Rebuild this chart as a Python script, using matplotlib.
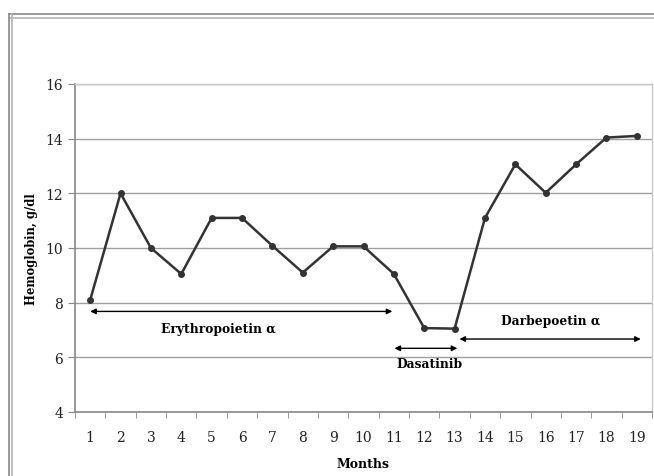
import matplotlib.pyplot as plt
from matplotlib.lines import Line2D

# hemoglobin by month
months = list(range(1, 20))
hemoglobin = [8.1, 12.0, 10.0, 9.05, 11.1, 11.1, 10.08, 9.1, 10.06, 10.06,
              9.05, 7.07, 7.05, 11.1, 13.06, 12.02, 13.06, 14.04, 14.1]
yticks = [4, 6, 8, 10, 12, 14, 16]

# treatment periods: (label, start, end, arrow y, text x, text y)
treatments = [
    ("Erythropoietin \u03b1", 1.0, 10.95, 7.68, 5.23, 7.04),
    ("Dasatinib", 11.02, 13.09, 6.33, 12.17, 5.79),
    ("Darbepoetin \u03b1", 13.16, 19.13, 6.67, 16.15, 7.34),
]

W, H = 654, 477
fig = plt.figure(figsize=(W / 100, H / 100), dpi=100)
plt.rcParams['font.family'] = ['DejaVu Serif']

# outer double frame (cropped at right/bottom)
for y0, c in [(15, '#8a8a8a'), (19, '#b5b5b5')]:
    fig.add_artist(Line2D([9 / W, 1], [1 - y0 / H] * 2, color=c, lw=1.2,
                          transform=fig.transFigure))
for x0, c in [(9, '#8a8a8a'), (12, '#b5b5b5')]:
    fig.add_artist(Line2D([x0 / W] * 2, [0, 1 - 15 / H], color=c, lw=1.2,
                          transform=fig.transFigure))

ax = fig.add_axes([75 / W, 1 - 413 / H, 577 / W, 328 / H])
ax.plot(months, hemoglobin, color='#333333', lw=1.8, marker='o',
        markersize=4, zorder=3)

ax.set_xlim(0.5, 19.5)
ax.set_ylim(4, 16)
ax.set_yticks(yticks)
ax.set_xticks(months)
ax.set_xticks([m + 0.5 for m in range(0, 20)], minor=True)
ax.yaxis.grid(True, color='#a0a0a0', lw=1)
ax.set_axisbelow(True)

ax.tick_params(axis='x', which='major', length=0, pad=13, labelsize=10,
               labelcolor='#222222')
ax.tick_params(axis='x', which='minor', length=4, direction='out',
               color='#888888')
ax.tick_params(axis='y', length=5, direction='out', pad=3.5, labelsize=10,
               color='#888888', labelcolor='#222222')

for s in ['left', 'bottom']:
    ax.spines[s].set_color('#888888')
    ax.spines[s].set_linewidth(1.2)
for s in ['top', 'right']:
    ax.spines[s].set_color('#c8c8c8')
    ax.spines[s].set_linewidth(1)

ax.set_ylabel('Hemoglobin, g/dl', fontweight='bold', fontsize=8.3, labelpad=5)
ax.set_xlabel('Months', fontweight='bold', fontsize=9, labelpad=9)

for label, x0, x1, ya, xt, yt in treatments:
    ax.annotate('', xy=(x1, ya), xytext=(x0, ya),
                arrowprops=dict(arrowstyle='<|-|>', color='black', lw=1,
                                mutation_scale=8, shrinkA=0, shrinkB=0))
    ax.text(xt, yt, label, ha='center', va='center', fontweight='bold',
            fontsize=8.8)

fig.savefig('out.png', dpi=100)
